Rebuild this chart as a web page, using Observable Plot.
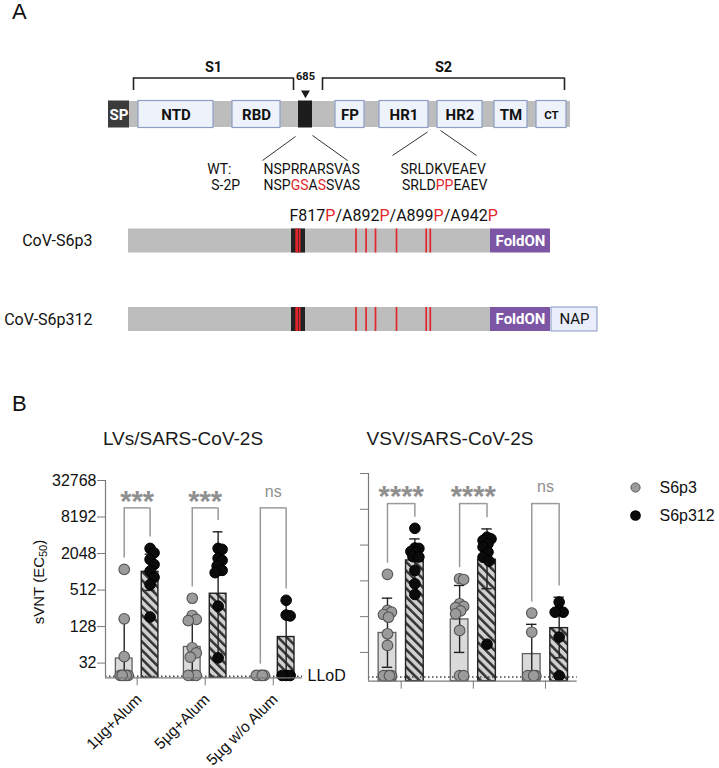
<!DOCTYPE html>
<html>
<head>
<meta charset="utf-8">
<script src="https://cdn.jsdelivr.net/npm/d3@7"></script>
<script src="https://cdn.jsdelivr.net/npm/@observablehq/plot@0.6"></script>
<style>
html,body{margin:0;padding:0;background:#fff;}
#fig{position:relative;width:719px;height:768px;overflow:hidden;background:#fff;}
#fig svg{position:absolute;overflow:visible;}
.lbl{position:absolute;white-space:nowrap;}
</style>
</head>
<body>
<div id="fig"></div>
<script>
// ================= Panel A data (spike schematic) =================
const domainNames = ["SP","NTD","RBD","FP","HR1","HR2","TM","CT"];
const domainStart = [1, 14, 319, 788, 912, 1163, 1214, 1235];
const domainEnd   = [13, 305, 541, 806, 984, 1213, 1234, 1273];
const subunitNames = ["S1","S2"];
const subunitStart = [13, 685];
const subunitEnd   = [682, 1273];
const cleavageSite = [682, 685];
const cleavageLabel = "685";
const seqLabels = ["WT:", "S-2P"];
const seqWT  = ["NSPRRARSVAS", "SRLDKVEAEV"];
const seqS2P = ["NSPGSASSVAS", "SRLDPPEAEV"];
const furinMutations = ["R682G","R683S","R685S"];
const prolineMutations = ["F817P","A892P","A899P","A942P"];
const hr1Mutations = ["K986P","V987P"];
const constructNames = ["CoV-S6p3","CoV-S6p312"];
const constructTags = [["FoldON"],["FoldON","NAP"]];
const ectoStart = 14, ectoEnd = 1208;

// ================= Panel B data (sVNT, EC50) =================
const groupLabels = ["1µg+Alum", "5µg+Alum", "5µg w/o Alum"];
const seriesNames = ["S6p3", "S6p312"];
const yTickValues = [32, 128, 512, 2048, 8192, 32768];

// LVs/SARS-CoV-2S
const lvS6p3Mean  = [38, 59, 19];
const lvS6p3Upper = [172, 190, 19];
const lvS6p3Lower = [8, 18, 19];
const lvS6p312Mean  = [1024, 445, 86];
const lvS6p312Upper = [2000, 4670, 340];
const lvS6p312Lower = [505, 40, 22];
const lvS6p3Dots = [
  [1120, 172, 41, 20, 20, 20, 20, 20],
  [375, 195, 168, 160, 57, 47, 40, 20, 20, 20],
  [20, 20, 20, 20]
];
const lvS6p312Dots = [
  [2490, 2100, 1640, 1350, 1050, 830, 630, 184],
  [2490, 2400, 1710, 1580, 1280, 1080, 990, 278, 39],
  [347, 198, 192, 20, 20, 20]
];
const lvSignificance = ["***", "***", "ns"];
const lvLLoD = 19.5;

// VSV/SARS-CoV-2S
const vsvS6p3Mean  = [68, 115, 30];
const vsvS6p3Upper = [262, 428, 95];
const vsvS6p3Lower = [18, 32, 9];
const vsvS6p312Mean  = [1130, 1160, 82];
const vsvS6p312Upper = [2600, 3830, 272];
const vsvS6p312Lower = [490, 377, 26];
const vsvS6p3Dots = [
  [660, 163, 152, 139, 125, 66, 42, 13, 13, 13, 13],
  [556, 540, 211, 190, 181, 160, 143, 75, 13, 13],
  [147, 70, 13, 13, 13, 13]
];
const vsvS6p312Dots = [
  [3920, 1830, 1800, 1600, 1550, 1310, 1290, 766, 458, 302],
  [2780, 2600, 2440, 2150, 1900, 1560, 1280, 1100, 44],
  [225, 163, 152, 152, 58, 13]
];
const vsvSignificance = ["****", "****", "ns"];
const vsvLLoD = 12.3;

// ================= helpers =================
const FONT = '"Liberation Sans", Arial, Helvetica, sans-serif';
const RFONT = 'Roboto, "Liberation Sans", Arial, sans-serif';
const RED = "#e3262b";
const MARK = "#010101";
const fig = document.getElementById("fig");

function put(node, left, top) {
  node.style.left = left + "px"; node.style.top = top + "px";
  fig.appendChild(node); return node;
}
function label(html, x, baseline, fs, o = {}) {
  const d = document.createElement("div");
  d.className = "lbl";
  d.innerHTML = html;
  d.style.fontSize = fs + "px";
  d.style.lineHeight = fs + "px";
  d.style.fontFamily = o.font || FONT;
  d.style.fontWeight = o.weight || "normal";
  d.style.color = o.color || "#111";
  fig.appendChild(d);
  d.style.top = (baseline - 0.8465 * fs) + "px";
  const w = d.getBoundingClientRect().width;
  const a = o.anchor || "start";
  d.style.left = (a === "middle" ? x - w / 2 : a === "end" ? x - w : x) + "px";
  return d;
}
function colorize(svg, segmenter) {
  d3.select(svg).selectAll(`g[fill="${MARK}"]`).attr("fill", "#111").selectAll("text").each(function () {
    const segs = segmenter(this.textContent);
    const t = d3.select(this);
    t.text(null);
    segs.forEach(s => t.append("tspan").attr("fill", s.red ? RED : null).text(s.t));
  });
}

// ================= Panel A: top schematic =================
// schematic (not-to-scale) residue -> pixel layout, applied as the x scale transform
const topDom = [1, 13, 14, 305, 319, 541, 682, 685, 788, 806, 912, 984, 1163, 1213, 1214, 1234, 1235, 1273];
const topRng = [108, 129, 138, 213, 232, 280, 298, 312, 335, 364, 379, 428, 437, 482, 494, 527, 536, 566];
const xTop = d3.scaleLinear(topDom, topRng);
const sT = (r, px) => xTop.invert(xTop(r) + px);
const domains = domainNames.map((name, i) => ({name, start: domainStart[i], end: domainEnd[i]}));
const bracketInset = [[4, -5], [10, -2]];
const subunits = subunitNames.map((name, i) => {
  const a = sT(subunitStart[i], bracketInset[i][0]);
  const b = sT(subunitEnd[i], bracketInset[i][1]);
  return {name, a, b, mid: xTop.invert((xTop(a) + xTop(b)) / 2)};
});
const cleaveMid = (cleavageSite[0] + cleavageSite[1]) / 2;
const callouts = [
  {x1: sT(cleavageSite[0], -3), y1: 136, x2: sT(cleavageSite[0], -36), y2: 160},
  {x1: sT(cleavageSite[1], 0), y1: 135, x2: sT(cleavageSite[1], 35), y2: 160},
  {x1: sT(984, -1), y1: 131.5, x2: sT(984, -36), y2: 155},
  {x1: sT(1163, 3), y1: 130, x2: sT(1163, 39), y2: 155}
];
const rowBase = [173, 189.5];
const seqLeft = [
  {t: seqWT[0], x: sT(682, -35), y: rowBase[0]},
  {t: seqWT[1], x: sT(984, -28), y: rowBase[0]}
];
const seqMut = [
  {t: seqS2P[0], x: sT(682, -35), y: rowBase[1]},
  {t: seqS2P[1], x: sT(984, -26.5), y: rowBase[1]}
];
const seqTags = [
  {t: seqLabels[0], x: sT(682, -91.3), y: rowBase[0]},
  {t: seqLabels[1], x: sT(682, -87.3), y: rowBase[1]}
];

const topSvg = Plot.plot({
  width: 719, height: 200, margin: 0,
  x: {type: "linear", transform: d => xTop(d), domain: [0, 719], range: [0, 719], axis: null},
  y: {domain: [0, 200], range: [0, 200], axis: null},
  style: {fontFamily: RFONT, background: "transparent"},
  marks: [
    Plot.rect([{a: 13, b: sT(1273, 4)}], {x1: "a", x2: "b", y1: 101, y2: 127, fill: "#bdbdbd"}),
    Plot.rect(domains.filter(d => d.name !== "SP"), {x1: "start", x2: "end", y1: 100.5, y2: 127.5, fill: "#eef2fb", stroke: "#8e9ec4", strokeWidth: 1.2}),
    Plot.rect(domains.filter(d => d.name === "SP"), {x1: "start", x2: "end", y1: 100.5, y2: 127.5, fill: "#3b3b3b"}),
    Plot.rect([cleavageSite], {x1: d => d[0], x2: d => d[1], y1: 100.5, y2: 127.5, fill: "#1c1c1c"}),
    Plot.text(domains.filter(d => d.name !== "SP" && d.name !== "CT"), {x: d => (d.start + d.end) / 2, y: 119, text: "name", fontWeight: "bold", fontSize: 15, lineAnchor: "bottom", fill: "#111"}),
    Plot.text(domains.filter(d => d.name === "CT"), {x: d => (d.start + d.end) / 2, y: 118.3, text: "name", fontWeight: "bold", fontSize: 11.5, lineAnchor: "bottom", fill: "#111"}),
    Plot.text(domains.filter(d => d.name === "SP"), {x: d => (d.start + d.end) / 2, y: 119, text: "name", fontWeight: "bold", fontSize: 15, lineAnchor: "bottom", fill: "#fff"}),
    Plot.ruleY(subunits, {y: 77.5, x1: "a", x2: "b", stroke: "#222", strokeWidth: 1.6}),
    Plot.ruleX(subunits.flatMap(d => [d.a, d.b]), {x: d => d, y1: 77.5, y2: 90, stroke: "#222", strokeWidth: 1.6}),
    Plot.text(subunits, {x: "mid", y: 71.7, text: "name", fontWeight: "bold", fontSize: 14.5, lineAnchor: "bottom", fill: "#111"}),
    Plot.text([cleavageLabel], {x: cleaveMid, y: 79, text: d => d, fontWeight: "bold", fontSize: 11, lineAnchor: "bottom", fill: "#111"}),
    Plot.dot([cleaveMid], {x: d => d, y: 92.5, symbol: "triangle", rotate: 180, r: 3.3, fill: "#1c1c1c", stroke: "none"}),
    Plot.link(callouts, {x1: "x1", y1: "y1", x2: "x2", y2: "y2", stroke: "#333", strokeWidth: 1}),
    Plot.text(seqTags, {x: "x", y: "y", text: "t", textAnchor: "start", lineAnchor: "bottom", fontSize: 14, fill: "#111"}),
    Plot.text(seqLeft, {x: "x", y: "y", text: "t", textAnchor: "start", lineAnchor: "bottom", fontSize: 14, fill: "#111"}),
    Plot.text(seqMut, {x: "x", y: "y", text: "t", textAnchor: "start", lineAnchor: "bottom", fontSize: 14, fill: MARK})
  ]
});
colorize(topSvg, s => {
  const wt = seqWT[seqS2P.indexOf(s)] || s;
  return [...s].map((c, i) => ({t: c, red: c !== wt[i]}));
});
put(topSvg, 0, 0);

// ================= Panel A: constructs =================
const conDom = [14, 678, 690, 817, 892, 899, 942, 986, 987, 1208];
const conRng = [128, 291, 305, 355.5, 365.6, 375, 396, 425.7, 429.8, 490];
const xCon = d3.scaleLinear(conDom, conRng);
const rowY = [240.5, 319];
const barHalf = 12;
const conRows = constructNames.map((name, i) => ({name, y: rowY[i], tags: constructTags[i]}));
const mutRes = [...furinMutations, ...prolineMutations, ...hr1Mutations].map(m => +m.slice(1, -1));
const mutLines = conRows.flatMap(r => mutRes.map(p => ({x: p, y1: r.y - barHalf, y2: r.y + barHalf})));
const tagRows = name => conRows.filter(r => r.tags.includes(name));

const conSvg = Plot.plot({
  width: 719, height: 160, margin: 0,
  x: {type: "linear", transform: d => xCon(d), domain: [0, 719], range: [0, 719], axis: null},
  y: {domain: [190, 350], range: [0, 160], axis: null},
  style: {fontFamily: RFONT, background: "transparent"},
  marks: [
    Plot.text([prolineMutations.join("/")], {x: 678, dx: -2, y: 220, text: d => d, textAnchor: "start", lineAnchor: "bottom", fontSize: 16, fill: MARK}),
    Plot.text(conRows, {x: ectoStart, dx: -36, y: "y", text: "name", textAnchor: "end", lineAnchor: "middle", fontSize: 16, fill: "#111"}),
    Plot.rect(conRows, {x1: ectoStart, x2: ectoEnd, y1: d => d.y - barHalf, y2: d => d.y + barHalf, fill: "#bdbdbd"}),
    Plot.rect(conRows, {x1: 678, x2: 690, y1: d => d.y - barHalf, y2: d => d.y + barHalf, fill: "#222"}),
    Plot.ruleX(mutLines, {x: "x", y1: "y1", y2: "y2", stroke: RED, strokeWidth: 1.7}),
    Plot.rect(tagRows("FoldON"), {x1: ectoEnd, x2: ectoEnd, insetRight: -60, y1: d => d.y - barHalf, y2: d => d.y + barHalf, fill: "#7c55a5"}),
    Plot.text(tagRows("FoldON"), {x: ectoEnd, dx: 30, y: "y", text: () => "FoldON", fontWeight: "bold", fontSize: 15, lineAnchor: "middle", fill: "#fff"}),
    Plot.rect(tagRows("NAP"), {x1: ectoEnd, x2: ectoEnd, insetLeft: 61, insetRight: -107, y1: d => d.y - barHalf, y2: d => d.y + barHalf, fill: "#e9eefa", stroke: "#8e9ec4", strokeWidth: 1.1}),
    Plot.text(tagRows("NAP"), {x: ectoEnd, dx: 84, y: "y", text: () => "NAP", fontSize: 15, lineAnchor: "middle", fill: "#111"})
  ]
});
colorize(conSvg, s => s.split("/").flatMap((m, i, arr) => {
  const parts = [{t: m.slice(0, -1), red: false}, {t: m.slice(-1), red: true}];
  if (i < arr.length - 1) parts.push({t: "/", red: false});
  return parts;
}));
put(conSvg, 0, 190);

// ================= Panel B =================
function swarm(values, yPx, maxOff = 4, minDist = 7, step = 1) {
  const idx = values.map((v, i) => i).sort((a, b) => values[b] - values[a]);
  const placed = [], off = new Array(values.length);
  const cands = [0];
  for (let k = 1; k * step <= maxOff + 1e-9; k++) cands.push(k * step, -k * step);
  for (const i of idx) {
    const y = yPx(values[i]);
    let best = 0, bestScore = -Infinity;
    for (const c of cands) {
      let dmin = Infinity;
      for (const p of placed) dmin = Math.min(dmin, Math.hypot(p.x - c, p.y - y));
      if (dmin >= minDist) { best = c; break; }
      if (dmin > bestScore + 1e-9) { bestScore = dmin; best = c; }
    }
    placed.push({x: best, y}); off[i] = best;
  }
  return off;
}

function vntPlot(cfg) {
  const {width, height, mL, mR, mT, mB, yMin, xDom, hatchId} = cfg;
  const yMax = 32768;
  const plotW = width - mL - mR, plotH = height - mT - mB;
  const unitPx = plotW / (xDom[1] - xDom[0]);
  const pxPerDbl = plotH / (Math.log2(yMax) - Math.log2(yMin));
  const OFF = 0.19, HALF = 0.1225, CAP = 0.072;
  const series = [
    {mean: cfg.meanA, up: cfg.upA, lo: cfg.loA, dots: cfg.dotsA, side: -1},
    {mean: cfg.meanB, up: cfg.upB, lo: cfg.loB, dots: cfg.dotsB, side: 1}
  ];
  const bars = [], errs = [], caps = [], dots = [], legs = [], tops = [];
  groupLabels.forEach((g, gi) => {
    series.forEach((s, si) => {
      const cx = gi + s.side * OFF;
      const m = s.mean[gi];
      bars.push({s: si, x1: cx - HALF, x2: cx + HALF, y: m});
      if (s.up[gi] > m) {
        errs.push({x: cx, y1: m, y2: s.up[gi]});
        caps.push({x1: cx - CAP, x2: cx + CAP, y: s.up[gi]});
      }
      if (s.lo[gi] < m) {
        errs.push({x: cx, y1: Math.max(s.lo[gi], yMin), y2: m});
        if (s.lo[gi] > yMin) caps.push({x1: cx - CAP, x2: cx + CAP, y: s.lo[gi]});
      }
      const vals = s.dots[gi];
      const offs = swarm(vals, v => Math.log2(v) * pxPerDbl);
      vals.forEach((v, k) => dots.push({s: si, x: cx + offs[k] / unitPx, y: v}));
      const top = Math.max(...vals, s.up[gi]) * Math.pow(2, 0.62);
      legs.push({x: cx, y1: top, y2: cfg.bracket});
    });
    tops.push({x1: gi - OFF, x2: gi + OFF, y: cfg.bracket, g: gi});
  });
  const sig = cfg.sig.map((t, i) => ({t, i}));
  const marks = [
    Plot.rect(bars.filter(b => b.s === 0), {x1: "x1", x2: "x2", y1: yMin, y2: "y", fill: "#dadada", stroke: "#5e5e5e", strokeWidth: 1.3}),
    Plot.rect(bars.filter(b => b.s === 1), {x1: "x1", x2: "x2", y1: yMin, y2: "y", fill: `url(#${hatchId})`, stroke: "#222", strokeWidth: 1.4}),
    Plot.ruleY([cfg.llod], {stroke: "#444", strokeDasharray: "1.5,2.5", strokeWidth: 1.5}),
    Plot.ruleX(errs, {x: "x", y1: "y1", y2: "y2", stroke: "#222", strokeWidth: 1.4}),
    Plot.ruleY(caps, {y: "y", x1: "x1", x2: "x2", stroke: "#222", strokeWidth: 1.4}),
    Plot.dot(dots.filter(d => d.s === 0), {x: "x", y: "y", r: 5.3, fill: "#9b9b9b", stroke: "#555", strokeWidth: 1.1}),
    Plot.dot(dots.filter(d => d.s === 1), {x: "x", y: "y", r: 5.3, fill: "#0b0b0b", stroke: "#000", strokeWidth: 1}),
    Plot.ruleY(tops, {y: "y", x1: "x1", x2: "x2", stroke: "#9a9a9a", strokeWidth: 1.5}),
    Plot.ruleX(legs, {x: "x", y1: "y1", y2: "y2", stroke: "#9a9a9a", strokeWidth: 1.5}),
    Plot.text(sig.filter(d => d.t !== "ns"), {x: "i", y: cfg.bracket, text: "t", dy: cfg.starDy, fontSize: 29, fontWeight: "bold", lineAnchor: "bottom", fill: "#8f8f8f"}),
    Plot.text(sig.filter(d => d.t === "ns"), {x: "i", y: cfg.bracket, text: "t", dy: cfg.nsDy, fontSize: 16, lineAnchor: "bottom", fill: "#8f8f8f"}),
    Plot.ruleX([xDom[0]], {stroke: "#7a7a7a", strokeWidth: 1.2}),
    Plot.ruleY([yMin], {stroke: "#7a7a7a", strokeWidth: 1.2})
  ];
  if (cfg.showLabels) {
    marks.push(
      Plot.text(["LLoD"], {x: xDom[1], y: cfg.llod, text: d => d, dx: 5, textAnchor: "start", lineAnchor: "middle", fontSize: 16, fill: "#111"}),
      Plot.text(groupLabels.map((g, i) => ({g, i})), {x: "i", y: yMin, text: "g", rotate: -45, textAnchor: "end", lineAnchor: "middle", dx: 2, dy: 19, fontSize: 15.5, fill: "#111"})
    );
  }
  const svg = Plot.plot({
    width, height, marginLeft: mL, marginRight: mR, marginTop: mT, marginBottom: mB,
    x: {domain: xDom, ticks: [0, 1, 2], tickFormat: () => "", tickSize: 8, label: null},
    y: {type: "log", base: 2, domain: [yMin, yMax], ticks: yTickValues, tickSize: 8, tickPadding: 1,
        tickFormat: cfg.showLabels ? (d => String(d)) : (() => ""), label: null},
    style: {fontFamily: FONT, fontSize: "16px", color: "#111", background: "transparent"},
    marks
  });
  d3.select(svg).insert("defs", ":first-child").html(
    `<pattern id="${hatchId}" patternUnits="userSpaceOnUse" width="6.2" height="6.2" patternTransform="rotate(-45)">` +
    `<rect width="6.2" height="6.2" fill="#d0d0d0"></rect><rect width="2.5" height="6.2" fill="#333"></rect></pattern>`);
  d3.select(svg).selectAll('[aria-label$="-axis tick"] path, [aria-label$="-axis"] .tick line').attr("stroke", "#7a7a7a");
  return svg;
}

const lvSvg = vntPlot({
  width: 360, height: 328, mL: 105, mR: 58, mT: 40, mB: 90.7,
  yMin: 18.3, xDom: [-0.465, 2.43], hatchId: "hatchLV", bracket: 11585,
  meanA: lvS6p3Mean, upA: lvS6p3Upper, loA: lvS6p3Lower, dotsA: lvS6p3Dots,
  meanB: lvS6p312Mean, upB: lvS6p312Upper, loB: lvS6p312Lower, dotsB: lvS6p312Dots,
  sig: lvSignificance, llod: lvLLoD, starDy: 3, nsDy: -11, showLabels: true
});
put(lvSvg, 0, 440);

const vsvSvg = vntPlot({
  width: 300, height: 328, mL: 68, mR: 23.3, mT: 33, mB: 87.3,
  yMin: 10.5, xDom: [-0.453, 2.44], hatchId: "hatchVSV", bracket: 10223,
  meanA: vsvS6p3Mean, upA: vsvS6p3Upper, loA: vsvS6p3Lower, dotsA: vsvS6p3Dots,
  meanB: vsvS6p312Mean, upB: vsvS6p312Upper, loB: vsvS6p312Lower, dotsB: vsvS6p312Dots,
  sig: vsvSignificance, llod: vsvLLoD, starDy: 2, nsDy: -11.5, showLabels: false
});
put(vsvSvg, 300, 440);

// legend
const legSvg = Plot.plot({
  width: 99, height: 60, margin: 0,
  x: {domain: [0, 1], range: [15, 99], axis: null},
  y: {type: "point", domain: seriesNames, range: [16.7, 45], padding: 0, axis: null},
  style: {fontFamily: FONT, background: "transparent"},
  marks: [
    Plot.dot([seriesNames[0]], {x: 0, y: d => d, r: 4.6, fill: "#9b9b9b", stroke: "#555", strokeWidth: 1}),
    Plot.dot([seriesNames[1]], {x: 0, y: d => d, r: 4.6, fill: "#0b0b0b", stroke: "#000"}),
    Plot.text(seriesNames, {x: 0, y: d => d, text: d => d, dx: 24, textAnchor: "start", lineAnchor: "middle", fontSize: 16, fill: "#111"})
  ]
});
put(legSvg, 620, 470);

// panel letters, titles, axis title
label("A", 12, 20, 22);
label("B", 12, 412, 22);
label("LVs/SARS-CoV-2S", 183, 445, 19, {anchor: "middle", color: "#1a1a1a"});
label("VSV/SARS-CoV-2S", 450, 445, 19, {anchor: "middle", color: "#1a1a1a"});
const yl = document.createElement("div");
yl.className = "lbl";
yl.innerHTML = 'sVNT (EC<sub style="font-size:11px;vertical-align:-3px;line-height:0">50</sub>)';
yl.style.cssText += `font-family:${FONT};font-size:15px;line-height:15px;color:#111;left:38px;top:582px;transform:translate(-50%,-50%) rotate(-90deg);`;
fig.appendChild(yl);
</script>
</body>
</html>
